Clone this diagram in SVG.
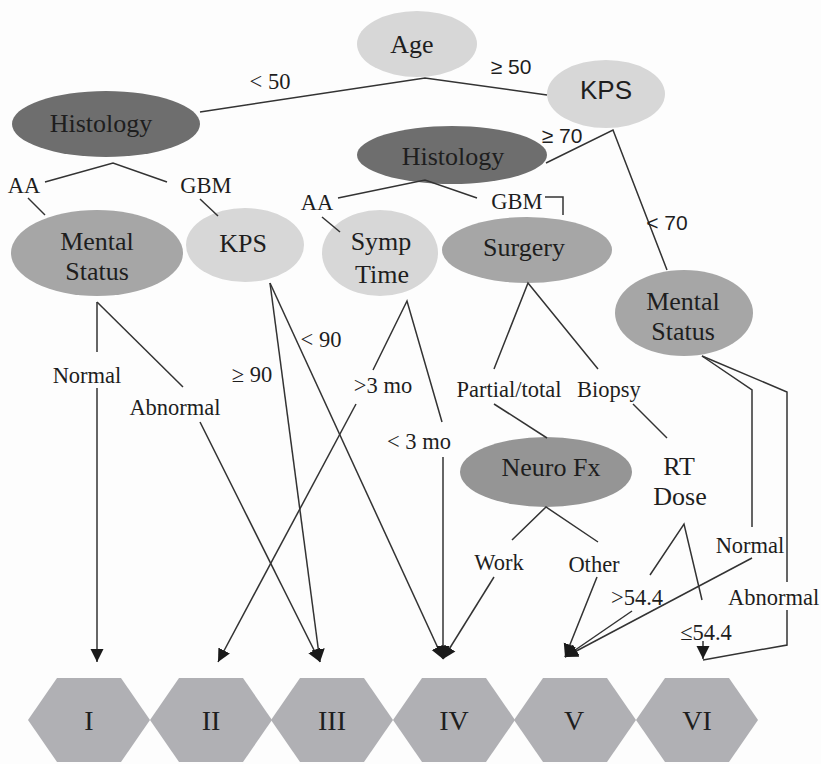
<svg xmlns="http://www.w3.org/2000/svg" width="821" height="764" viewBox="0 0 821 764">
  <defs>
    <marker id="arrow" markerUnits="userSpaceOnUse" markerWidth="14" markerHeight="14" viewBox="0 0 14 14" refX="13" refY="7" orient="auto">
      <path d="M0,0.5 L13,7 L0,13.5 Z" fill="#1a1a1a"/>
    </marker>
    <polygon id="hex" points="-61,0 -32,-42 32,-42 61,0 32,42 -32,42"/>
  </defs>
  <style>
    .bg { fill: #fdfdfd; }
    .dark { fill: #6e6e6e; }
    .mid { fill: #a6a6a6; }
    .neuro { fill: #959595; }
    .light { fill: #d7d7d7; }
    .hex { fill: #b0b0b4; }
    .serif { font-family: 'Liberation Serif', 'DejaVu Serif', serif; fill: #1e1e1e; }
    .sans { font-family: 'Liberation Sans', 'DejaVu Sans', sans-serif; fill: #1e1e1e; }
    .node { font-size: 26px; text-anchor: middle; }
    .lbl { font-size: 22.5px; text-anchor: middle; }
    .num { font-size: 28px; text-anchor: middle; }
    .conn line, .conn polyline { stroke: #333; stroke-width: 1.5; fill: none; }
    .arr { marker-end: url(#arrow); }
  </style>

  <rect class="bg" x="0" y="0" width="821" height="764"/>

  <!-- decision nodes -->
  <g id="age">
    <ellipse class="light" cx="417" cy="44" rx="60" ry="33"/>
    <text class="node serif" font-family="Liberation Serif, serif" x="412" y="53">Age</text>
  </g>
  <g id="kps-top">
    <ellipse class="light" cx="606" cy="94" rx="59" ry="34"/>
    <text class="node sans" x="606" y="99">KPS</text>
  </g>
  <g id="histology-left">
    <ellipse class="dark" cx="106" cy="124" rx="94" ry="33"/>
    <text class="node serif" x="101" y="132">Histology</text>
  </g>
  <g id="histology-mid">
    <ellipse class="dark" cx="452" cy="155" rx="95" ry="29"/>
    <text class="node serif" x="453" y="165">Histology</text>
  </g>
  <g id="mental-left">
    <ellipse class="mid" cx="97" cy="253" rx="86" ry="43"/>
    <text class="node serif" x="97" y="250">Mental</text>
    <text class="node serif" x="97" y="280">Status</text>
  </g>
  <g id="kps-mid">
    <ellipse class="light" cx="245" cy="245" rx="59" ry="37"/>
    <text class="node serif" x="243" y="252">KPS</text>
  </g>
  <g id="symp-time">
    <ellipse class="light" cx="380" cy="253" rx="58" ry="43"/>
    <text class="node serif" x="381" y="250">Symp</text>
    <text class="node serif" x="382" y="283">Time</text>
  </g>
  <g id="surgery">
    <ellipse class="mid" cx="527" cy="250" rx="85" ry="33"/>
    <text class="node serif" x="524" y="256">Surgery</text>
  </g>
  <g id="mental-right">
    <ellipse class="mid" cx="684" cy="313" rx="69" ry="43"/>
    <text class="node serif" x="683" y="310">Mental</text>
    <text class="node serif" x="683" y="340">Status</text>
  </g>
  <g id="neuro-fx">
    <ellipse class="neuro" cx="546" cy="472" rx="86" ry="35"/>
    <text class="node serif" x="551" y="476">Neuro Fx</text>
  </g>
  <g id="rt-dose">
    <text class="node serif" x="679" y="475">RT</text>
    <text class="node serif" x="680" y="505">Dose</text>
  </g>

  <!-- outcome groups -->
  <g id="group-I"><use href="#hex" class="hex" x="89" y="720"/><text class="num serif" x="89" y="730">I</text></g>
  <g id="group-II"><use href="#hex" class="hex" x="211" y="720"/><text class="num serif" x="211" y="730">II</text></g>
  <g id="group-III"><use href="#hex" class="hex" x="332" y="720"/><text class="num serif" x="332" y="730">III</text></g>
  <g id="group-IV"><use href="#hex" class="hex" x="454" y="720"/><text class="num serif" x="454" y="730">IV</text></g>
  <g id="group-V"><use href="#hex" class="hex" x="575" y="720"/><text class="num serif" x="574" y="730">V</text></g>
  <g id="group-VI"><use href="#hex" class="hex" x="697" y="720"/><text class="num serif" x="697" y="730">VI</text></g>

  <!-- connectors -->
  <g id="connectors" class="conn">
    <polyline points="200,112 425,78 547,95"/>
    <polyline points="45,182 113,163 167,182"/>
    <line x1="28" y1="198" x2="45" y2="215"/>
    <line x1="200" y1="199" x2="218" y2="216"/>
    <polyline points="546,163 613,130 667,270"/>
    <polyline points="338,198 425,180 477,198"/>
    <polyline points="545,197 563,197 563,215"/>
    <line x1="322" y1="217" x2="340" y2="232"/>

    <line x1="97" y1="302" x2="97" y2="352"/>
    <line class="arr" x1="97" y1="388" x2="97" y2="662"/>
    <line x1="97" y1="302" x2="183" y2="387"/>
    <line class="arr" x1="200" y1="422" x2="320" y2="662"/>

    <line class="arr" x1="270" y1="283" x2="320" y2="662"/>
    <line class="arr" x1="270" y1="283" x2="443" y2="659"/>

    <polyline points="373,370 407,301 442,422"/>
    <line class="arr" x1="356" y1="404" x2="218" y2="662"/>
    <line class="arr" x1="443" y1="457" x2="443" y2="659"/>

    <polyline points="494,369 528,283 598,369"/>
    <line x1="494" y1="404" x2="547" y2="438"/>
    <line x1="633" y1="404" x2="667" y2="438"/>

    <polyline points="512,540 546,507 598,542"/>
    <line class="arr" x1="494" y1="577" x2="443" y2="659"/>
    <line class="arr" x1="597" y1="577" x2="565" y2="657"/>

    <polyline points="650,575 684,524 702,600"/>
    <line class="arr" x1="632" y1="611" x2="565" y2="657"/>
    <line class="arr" x1="703" y1="641" x2="703" y2="659"/>

    <polyline points="702,356 752,390 752,527"/>
    <polyline points="702,356 787,392 787,582"/>
    <polyline points="787,610 787,645 703,660"/>
    <line class="arr" x1="752" y1="558" x2="565" y2="657"/>
  </g>

  <!-- branch labels -->
  <g id="labels">
    <text class="lbl serif" x="270" y="89">&lt; 50</text>
    <text class="lbl sans" x="511" y="74" style="font-size:21px">≥ 50</text>
    <text class="lbl sans" x="562" y="143" style="font-size:21px">≥ 70</text>
    <text class="lbl sans" x="667" y="230" style="font-size:21px">&lt; 70</text>
    <text class="lbl serif" x="24" y="193">AA</text>
    <text class="lbl serif" x="206" y="193">GBM</text>
    <text class="lbl serif" x="317" y="210">AA</text>
    <text class="lbl serif" x="517" y="209">GBM</text>
    <text class="lbl serif" x="87" y="383">Normal</text>
    <text class="lbl serif" x="175" y="415">Abnormal</text>
    <text class="lbl serif" x="321" y="347">&lt; 90</text>
    <text class="lbl serif" x="252" y="382">≥ 90</text>
    <text class="lbl serif" x="383" y="393">&gt;3 mo</text>
    <text class="lbl serif" x="419" y="449">&lt; 3 mo</text>
    <text class="lbl serif" x="509" y="397">Partial/total</text>
    <text class="lbl serif" x="609" y="397">Biopsy</text>
    <text class="lbl serif" x="499" y="570">Work</text>
    <text class="lbl serif" x="594" y="572">Other</text>
    <text class="lbl serif" x="637" y="605">&gt;54.4</text>
    <text class="lbl serif" x="706" y="640">≤54.4</text>
    <text class="lbl serif" x="750" y="553">Normal</text>
    <text class="lbl serif" x="728" y="605" style="text-anchor:start">Abnormal</text>
  </g>
</svg>
